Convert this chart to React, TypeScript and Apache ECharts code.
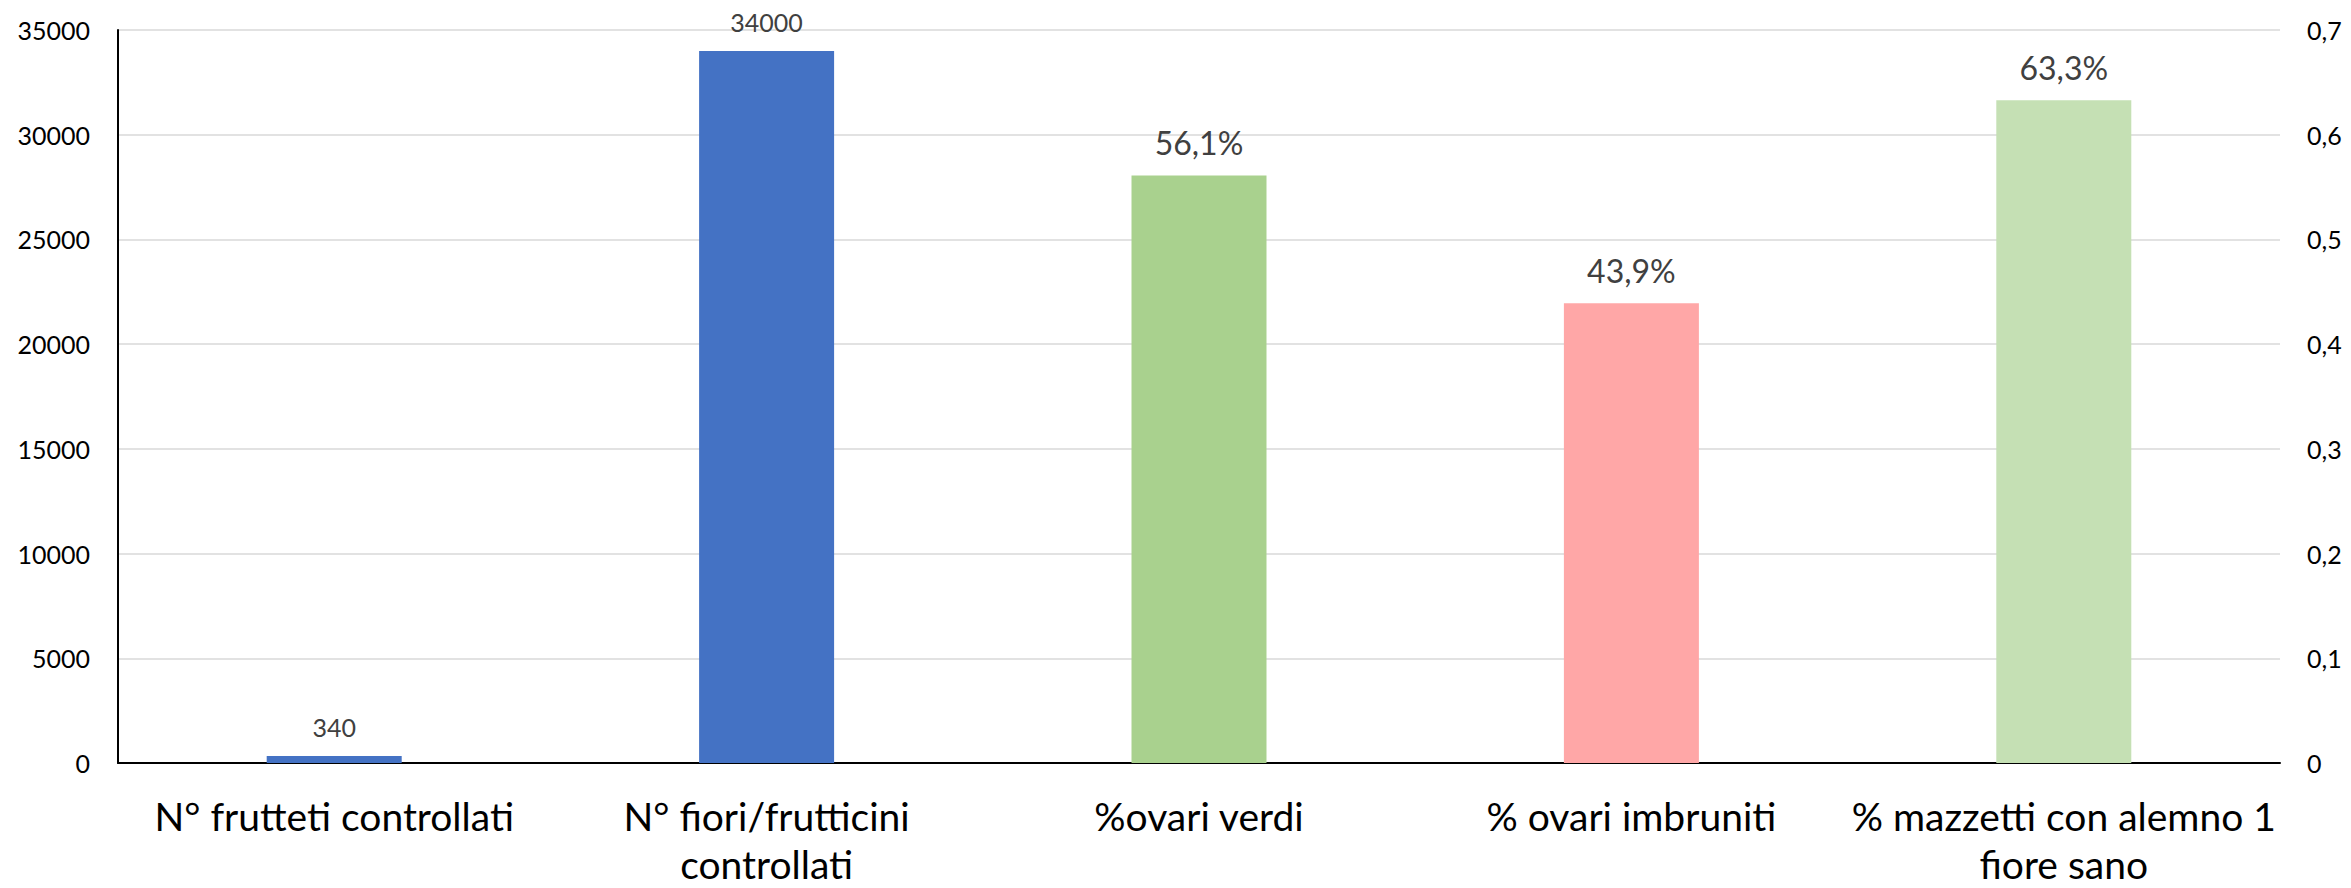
import React, { useEffect, useRef } from "react";
import * as echarts from "echarts";

const categories = [
  "N° frutteti controllati",
  "N° fiori/frutticini\ncontrollati",
  "%ovari verdi",
  "% ovari imbruniti",
  "% mazzetti con alemno 1\nfiore sano",
];
const countValues = [340, 34000, null, null, null];
const percentValues = [null, null, 0.561, 0.439, 0.633];
const barColors = ["#4472C4", "#4472C4", "#A9D18E", "#FFA7A7", "#C5E0B4"];

const FONT = "Lato";

export default function App() {
  const ref = useRef<HTMLDivElement>(null);
  useEffect(() => {
    if (!ref.current) return;
    const chart = echarts.init(ref.current, null, { renderer: "svg" });
    chart.setOption({
      animation: false,
      backgroundColor: "#ffffff",
      textStyle: { fontFamily: FONT },
      grid: {
        left: 118,
        right: 71,
        top: 30,
        bottom: 125,
        containLabel: false,
        outerBoundsMode: "none",
      },
      xAxis: {
        type: "category",
        data: categories,
        axisLine: { show: true, lineStyle: { color: "#000000", width: 2 } },
        axisTick: { show: false },
        axisLabel: {
          fontFamily: FONT,
          fontSize: 39,
          lineHeight: 48,
          color: "#000000",
          margin: 29,
          interval: 0,
        },
      },
      yAxis: [
        {
          type: "value",
          min: 0,
          max: 35000,
          interval: 5000,
          axisLine: { show: true, lineStyle: { color: "#000000", width: 2 } },
          axisTick: { show: false },
          splitLine: { show: true, lineStyle: { color: "#D9D9D9", width: 1.5 } },
          axisLabel: {
            fontFamily: FONT,
            fontSize: 25,
            color: "#000000",
            margin: 28,
            formatter: (v: number) => String(v),
          },
        },
        {
          type: "value",
          min: 0,
          max: 0.7,
          interval: 0.1,
          position: "right",
          axisLine: { show: false },
          axisTick: { show: false },
          splitLine: { show: false },
          axisLabel: {
            fontFamily: FONT,
            fontSize: 25,
            color: "#000000",
            margin: 27,
            formatter: (v: number) => (v === 0 ? "0" : v.toFixed(1).replace(".", ",")),
          },
        },
      ],
      series: [
        {
          type: "bar",
          yAxisIndex: 0,
          barWidth: 135,
          barGap: "-100%",
          data: countValues.map((v, i) => ({ value: v, itemStyle: { color: barColors[i] } })),
          label: {
            show: true,
            position: "top",
            distance: 16,
            fontFamily: FONT,
            fontSize: 25,
            color: "#404040",
          },
        },
        {
          type: "bar",
          yAxisIndex: 1,
          barWidth: 135,
          barGap: "-100%",
          data: percentValues.map((v, i) => ({ value: v, itemStyle: { color: barColors[i] } })),
          label: {
            show: true,
            position: "top",
            distance: 17,
            fontFamily: FONT,
            fontSize: 32,
            color: "#404040",
            formatter: (p: any) => (p.value * 100).toFixed(1).replace(".", ",") + "%",
          },
        },
      ],
    });
    return () => chart.dispose();
  }, []);
  return (
    <div
      ref={ref}
      style={{ position: "fixed", left: 0, top: 0, width: 2351, height: 888, background: "#fff" }}
    />
  );
}
